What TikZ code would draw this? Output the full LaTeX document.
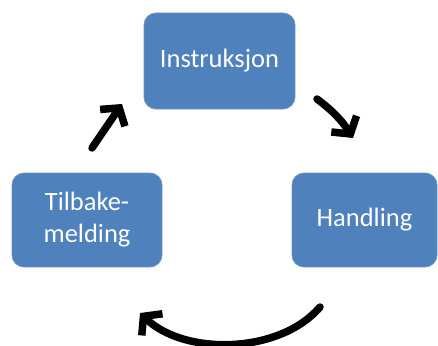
\documentclass[tikz,border=0pt]{standalone}
\usepackage{fontspec}
\setmainfont{Carlito}
\usetikzlibrary{arrows.meta}
\definecolor{boxblue}{HTML}{4F81BD}
\definecolor{boxedge}{HTML}{6E96C8}
\begin{document}
\begin{tikzpicture}[x=1pt,y=-1pt,
  stepbox/.style={draw=boxedge,line width=0.8pt,fill=boxblue,rounded corners=12pt,
    text=white,font=\fontsize{26.5}{32}\selectfont,align=center,inner sep=0pt},
  cyc/.style={line width=7.5pt,line cap=round,
    -{Straight Barb[length=12pt,width=30pt]}}]
\useasboundingbox (0,0) rectangle (438,345);
\node[stepbox,minimum width=151pt,minimum height=96pt] (ins) at (219.5,61) {Instruksjon};
\node[stepbox,minimum width=145pt,minimum height=94pt] (han) at (364.5,220) {Handling};
\node[stepbox,minimum width=150pt,minimum height=94pt] (til) at (87,220) {Tilbake-\\melding};
\coordinate (a1s) at (92,148);
\coordinate (a1e) at (122,104);
\coordinate (a2s) at (317,99);
\coordinate (a2e) at (353,138);
\coordinate (a3s) at (320,307);
\coordinate (a3e) at (140,313);
\draw[cyc] (a1s) -- (a1e);
\draw[cyc] (a2s) to[bend left=10] (a2e);
\draw[cyc] (a3s) .. controls (280,354) and (185,356) .. (a3e);
\end{tikzpicture}
\end{document}
